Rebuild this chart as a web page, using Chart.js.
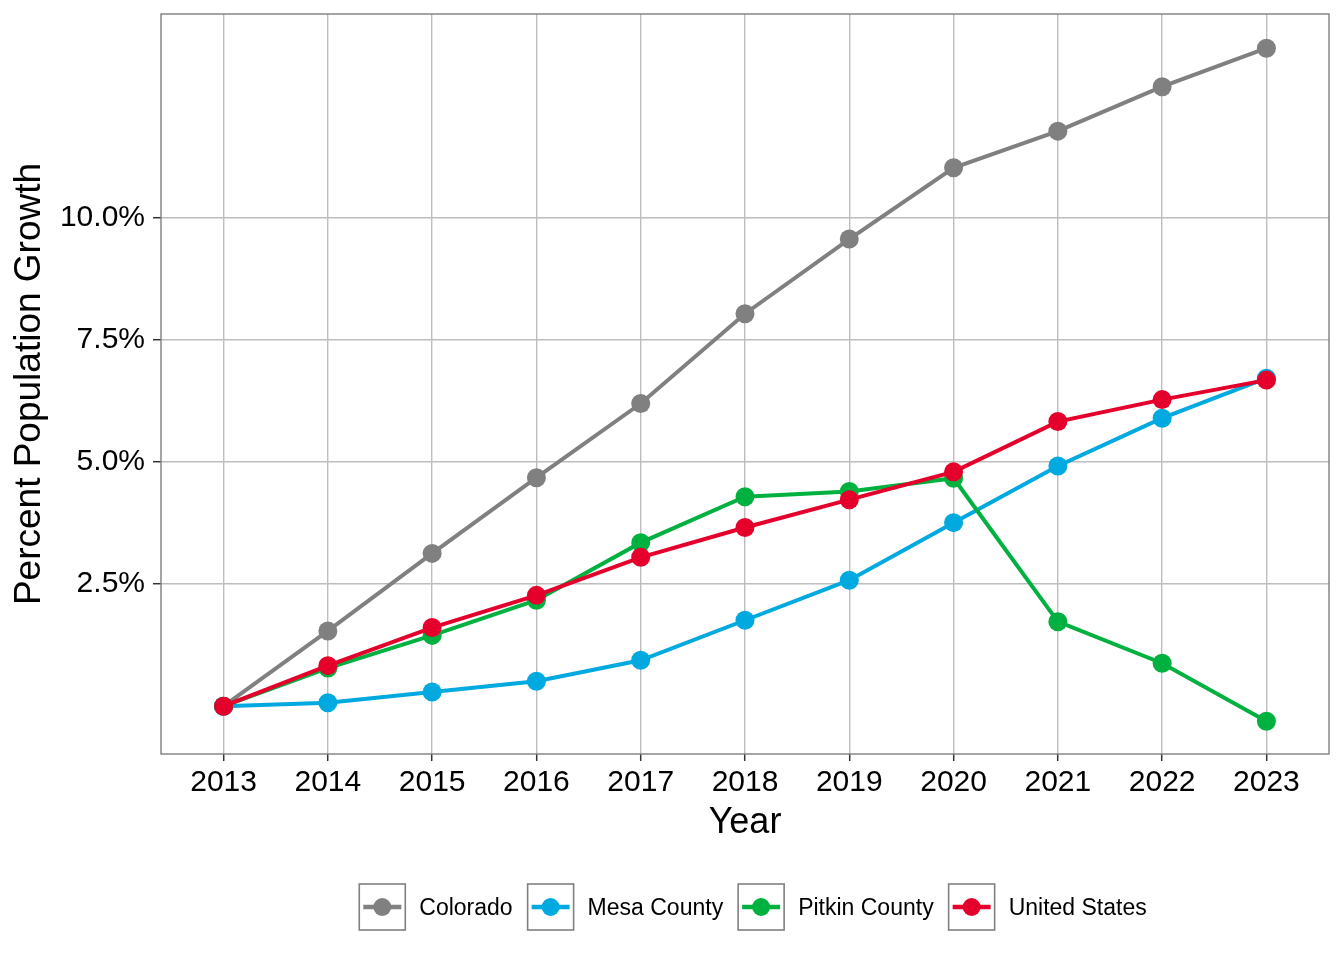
<!DOCTYPE html>
<html>
<head>
<meta charset="utf-8">
<script src="https://cdn.jsdelivr.net/npm/chart.js@4.4.1/dist/chart.umd.min.js"></script>
<style>
html,body{margin:0;padding:0;background:#fff;}
</style>
</head>
<body>
<canvas id="growthChart" width="1344" height="960"></canvas>
<script>

// values, percent growth since 2013

const years = [2013, 2014, 2015, 2016, 2017, 2018, 2019, 2020, 2021, 2022, 2023];

const colorado = [0, 1.54, 3.13, 4.68, 6.20, 8.04, 9.57, 11.03, 11.78, 12.69, 13.48];
const mesa = [0, 0.07, 0.29, 0.51, 0.94, 1.76, 2.58, 3.76, 4.92, 5.90, 6.72];
const pitkin = [0, 0.78, 1.45, 2.17, 3.35, 4.29, 4.40, 4.67, 1.73, 0.88, -0.31];
const unitedStates = [0, 0.83, 1.61, 2.27, 3.05, 3.66, 4.23, 4.80, 5.83, 6.28, 6.68];

const seriesNames = ["Colorado", "Mesa County", "Pitkin County", "United States"];
const seriesColors = ["#808080", "#00A9E0", "#00B140", "#E4002B"];

const yTicks = [2.5, 5, 7.5, 10];

const FONT = '"Liberation Sans", Arial, sans-serif';


function toPoints(values){
return years.map(function(yr, i){
return {x: yr, y: values[i]};
});
}

const allSeries = [colorado, mesa, pitkin, unitedStates];

const datasets = allSeries.map(function(values, i){
return {
label: seriesNames[i],
data: toPoints(values),
borderColor: seriesColors[i],
backgroundColor: seriesColors[i],
borderWidth: 4,
pointRadius: 9.5,
pointBorderWidth: 0,
pointHoverRadius: 9.5,
tension: 0,
// later series sit on top, like the original
order: allSeries.length - i
};
});


// panel border + boxed legend under the plot

const panelAndLegend = {
id: "panelAndLegend",
afterDraw(chart){

const ctx = chart.ctx;
const a = chart.chartArea;

ctx.save();

ctx.strokeStyle = "#7f7f7f";
ctx.lineWidth = 1.4;
ctx.strokeRect(a.left, a.top, a.right - a.left, a.bottom - a.top);

ctx.font = "23px " + FONT;

const box = 46, gapText = 14, gapItem = 15;

let total = 0;
chart.data.datasets.forEach(function(ds, i){
total += box + gapText + ctx.measureText(ds.label).width;
if(i > 0) total += gapItem;
});

let x = (a.left + a.right) / 2 + 8 - total / 2;
const top = 884;
const mid = top + box / 2;

chart.data.datasets.forEach(function(ds){

ctx.strokeStyle = "#808080";
ctx.lineWidth = 1.6;
ctx.strokeRect(x, top, box, box);

ctx.strokeStyle = ds.borderColor;
ctx.lineWidth = 4.5;
ctx.beginPath();
ctx.moveTo(x + 4, mid);
ctx.lineTo(x + box - 4, mid);
ctx.stroke();

ctx.fillStyle = ds.borderColor;
ctx.beginPath();
ctx.arc(x + box / 2, mid, 9, 0, Math.PI * 2);
ctx.fill();

ctx.fillStyle = "#000";
ctx.textBaseline = "middle";
ctx.textAlign = "left";
ctx.fillText(ds.label, x + box + gapText, mid + 2);

x += box + gapText + ctx.measureText(ds.label).width + gapItem;
});

ctx.restore();
}
};


const ctx = document.getElementById("growthChart").getContext("2d");

new Chart(ctx, {
type: "line",

data: {
datasets: datasets
},

options: {
responsive: false,
animation: false,
layout: {
padding: {top: 14, right: 15, bottom: 115, left: 0}
},

plugins: {
legend: {display: false},
tooltip: {enabled: false}
},

scales: {
x: {
type: "linear",
min: 2012.4,
max: 2023.6,
afterBuildTicks: function(scale){
scale.ticks = years.map(function(v){ return {value: v}; });
},
afterFit: function(scale){
scale.height = 91;
scale.paddingLeft = 0;
scale.paddingRight = 0;
},
border: {display: false},
grid: {
color: "#bdbdbd",
lineWidth: 1.4,
tickColor: "#333333",
tickWidth: 1.5,
tickLength: 7
},
ticks: {
color: "#000",
padding: 4,
maxRotation: 0,
autoSkip: false,
font: {size: 30, family: FONT},
callback: function(v){ return String(v); }
},
title: {
display: true,
text: "Year",
color: "#000",
padding: {top: 0, bottom: 0},
font: {size: 36, family: FONT}
}
},

y: {
type: "linear",
min: -0.98,
max: 14.18,
afterBuildTicks: function(scale){
scale.ticks = yTicks.map(function(v){ return {value: v}; });
},
afterFit: function(scale){
scale.width = 161;
scale.paddingTop = 0;
scale.paddingBottom = 0;
},
border: {display: false},
grid: {
color: "#bdbdbd",
lineWidth: 1.4,
tickColor: "#333333",
tickWidth: 1.5,
tickLength: 8
},
ticks: {
color: "#000",
padding: 8,
font: {size: 30, family: FONT},
callback: function(v){ return v.toFixed(1) + "%"; }
},
title: {
display: true,
text: "Percent Population Growth",
color: "#000",
padding: {top: 8, bottom: 0},
font: {size: 37, family: FONT}
}
}
}
},

plugins: [panelAndLegend]
});

</script>
</body>
</html>
